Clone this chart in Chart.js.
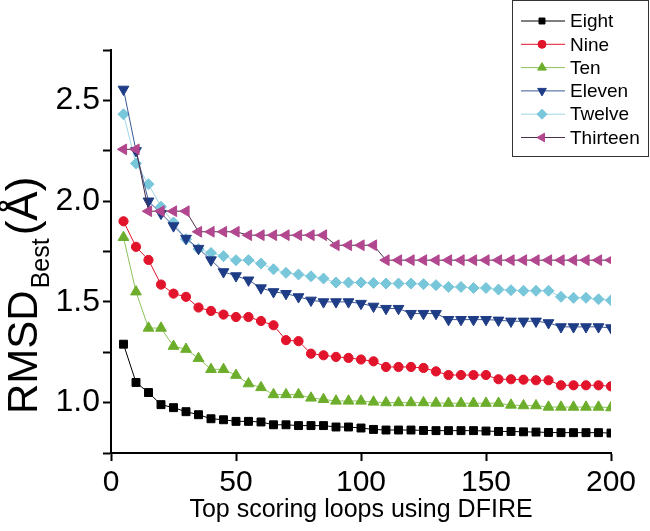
<!DOCTYPE html>
<html>
<head>
<meta charset="utf-8">
<script src="https://cdn.jsdelivr.net/npm/chart.js@4.4.1/dist/chart.umd.min.js"></script>
<style>
  html, body { margin: 0; padding: 0; background: #fff; }
  #wrap { width: 650px; height: 531px; }
</style>
</head>
<body>
<div id="wrap"><canvas id="rmsdChart"></canvas></div>
<script>
var loops = [5, 10, 15, 20, 25, 30, 35, 40, 45, 50, 55, 60, 65, 70, 75, 80, 85, 90, 95, 100,
  105, 110, 115, 120, 125, 130, 135, 140, 145, 150, 155, 160, 165, 170, 175, 180, 185, 190, 195, 200];

var eight = [1.29, 1.10, 1.05, 0.99, 0.975, 0.955, 0.94, 0.92, 0.915, 0.907,
  0.907, 0.904, 0.89, 0.89, 0.886, 0.886, 0.886, 0.879, 0.879, 0.874,
  0.867, 0.864, 0.864, 0.864, 0.862, 0.861, 0.861, 0.861, 0.861, 0.859,
  0.857, 0.857, 0.855, 0.854, 0.852, 0.851, 0.851, 0.851, 0.851, 0.849];
var nine = [1.90, 1.773, 1.708, 1.586, 1.541, 1.525, 1.472, 1.455, 1.437, 1.425,
  1.425, 1.405, 1.384, 1.31, 1.305, 1.243, 1.235, 1.227, 1.222, 1.214,
  1.205, 1.177, 1.177, 1.177, 1.172, 1.155, 1.137, 1.137, 1.137, 1.137,
  1.116, 1.116, 1.114, 1.111, 1.111, 1.086, 1.086, 1.086, 1.086, 1.081];
var ten = [1.82, 1.55, 1.37, 1.37, 1.28, 1.265, 1.22, 1.165, 1.165, 1.136,
  1.094, 1.075, 1.04, 1.04, 1.04, 1.023, 1.016, 1.008, 1.008, 1.008,
  1.003, 1.0, 1.0, 1.0, 1.0, 0.998, 0.997, 0.997, 0.997, 0.997,
  0.997, 0.988, 0.985, 0.985, 0.978, 0.978, 0.978, 0.978, 0.978, 0.975];
var eleven = [2.555, 2.25, 2.0, 1.939, 1.877, 1.815, 1.765, 1.708, 1.649, 1.629,
  1.608, 1.569, 1.55, 1.541, 1.525, 1.508, 1.5, 1.5, 1.5, 1.492,
  1.478, 1.467, 1.467, 1.442, 1.442, 1.442, 1.412, 1.412, 1.412, 1.412,
  1.409, 1.404, 1.404, 1.404, 1.396, 1.376, 1.376, 1.376, 1.376, 1.371];
var twelve = [2.431, 2.187, 2.084, 1.972, 1.894, 1.811, 1.762, 1.743, 1.727, 1.707,
  1.707, 1.69, 1.662, 1.644, 1.636, 1.627, 1.616, 1.596, 1.596, 1.596,
  1.594, 1.591, 1.591, 1.591, 1.588, 1.583, 1.574, 1.574, 1.569, 1.569,
  1.561, 1.558, 1.555, 1.555, 1.555, 1.525, 1.52, 1.52, 1.513, 1.508];
var thirteen = [2.257, 2.257, 1.95, 1.95, 1.95, 1.95, 1.848, 1.848, 1.848, 1.848,
  1.831, 1.831, 1.831, 1.831, 1.831, 1.831, 1.831, 1.781, 1.781, 1.781,
  1.781, 1.707, 1.707, 1.707, 1.707, 1.707, 1.707, 1.707, 1.707, 1.707,
  1.707, 1.707, 1.707, 1.707, 1.707, 1.707, 1.707, 1.707, 1.707, 1.707];

var seriesNames = ["Eight", "Nine", "Ten", "Eleven", "Twelve", "Thirteen"];
var xTicks = [0, 50, 100, 150, 200];
var yTicks = [1.0, 1.5, 2.0, 2.5];

var fontFamily = "'Liberation Sans', Arial, sans-serif";

// marker colour, line colour, point style, rotation, radius
var styles = [
  { mark: "#000000", line: "#000000", shape: "rect", rot: 0, r: 5.6 },
  { mark: "#e2142c", line: "#e2142c", shape: "circle", rot: 0, r: 4.6 },
  { mark: "#6cae2b", line: "#8cc35a", shape: "triangle", rot: 0, r: 6.2 },
  { mark: "#1f3d86", line: "#3b5996", shape: "triangle", rot: 180, r: 6.2 },
  { mark: "#78c6da", line: "#9fd6e4", shape: "rectRot", rot: 0, r: 5.5 },
  { mark: "#b2478f", line: "#4a3048", shape: "triangle", rot: 270, r: 6.2 }
];
var values = [eight, nine, ten, eleven, twelve, thirteen];

var datasets = seriesNames.map(function(name, i) {
  var s = styles[i];
  return {
    label: name,
    data: loops.map(function(x, j) { return { x: x, y: values[i][j] }; }),
    borderColor: s.line,
    borderWidth: 1,
    backgroundColor: s.mark,
    pointBackgroundColor: s.mark,
    pointBorderColor: s.mark,
    pointBorderWidth: 1,
    pointStyle: s.shape,
    pointRotation: s.rot,
    pointRadius: s.r,
    pointHoverRadius: s.r,
    tension: 0,
    order: name === "Thirteen" ? -1 : i
  };
});

// white page
var bgPlugin = {
  id: "bg",
  beforeDraw: function(chart) {
    var ctx = chart.ctx;
    ctx.save();
    ctx.fillStyle = "#fff";
    ctx.fillRect(0, 0, chart.width, chart.height);
    ctx.restore();
  }
};

// RMSD_Best(Å) with a subscript
var yTitlePlugin = {
  id: "yTitle",
  afterDraw: function(chart) {
    var ctx = chart.ctx;
    ctx.save();
    ctx.translate(37, 414);
    ctx.rotate(-Math.PI / 2);
    ctx.fillStyle = "#000";
    ctx.textBaseline = "alphabetic";
    ctx.textAlign = "left";
    ctx.font = "42px " + fontFamily;
    ctx.fillText("RMSD", 0, 0);
    var pos = ctx.measureText("RMSD").width + 2;
    ctx.font = "25px " + fontFamily;
    ctx.fillText("Best", pos, 12);
    pos += ctx.measureText("Best").width + 3;
    ctx.font = "44px " + fontFamily;
    ctx.fillText("(Å)", pos, 0);
    ctx.restore();
  }
};

// legend with a line through each marker
var legendPlugin = {
  id: "lineLegend",
  afterDraw: function(chart) {
    var ctx = chart.ctx;
    ctx.save();
    ctx.strokeStyle = "#333";
    ctx.lineWidth = 1;
    ctx.strokeRect(512.5, 0.5, 136, 156);
    ctx.font = "19px " + fontFamily;
    ctx.textBaseline = "middle";
    ctx.textAlign = "left";
    seriesNames.forEach(function(name, i) {
      var s = styles[i];
      var y = 21 + i * 23.3;
      ctx.strokeStyle = s.line;
      ctx.lineWidth = 1;
      ctx.beginPath();
      ctx.moveTo(521, y);
      ctx.lineTo(565, y);
      ctx.stroke();
      ctx.fillStyle = s.mark;
      ctx.strokeStyle = s.mark;
      Chart.helpers.drawPoint(ctx, {
        pointStyle: s.shape,
        rotation: s.rot,
        radius: s.shape === "rect" ? 4.2 : (s.shape === "circle" ? 4 : 5),
        borderWidth: 1
      }, 542, y);
      ctx.fillStyle = "#000";
      ctx.fillText(name, 570, y + 1);
    });
    ctx.restore();
  }
};

var ctx = document.getElementById("rmsdChart");
var rmsdChart = new Chart(ctx, {
  type: "line",
  data: { datasets: datasets },
  options: {
    responsive: true,
    maintainAspectRatio: false,
    animation: false,
    devicePixelRatio: 1,
    layout: { padding: { top: 50, right: 39, left: 0, bottom: 0 } },
    plugins: {
      legend: { display: false },
      tooltip: { enabled: false }
    },
    scales: {
      x: {
        type: "linear",
        min: 0,
        max: 200,
        afterFit: function(scale) { scale.height = 78; },
        afterBuildTicks: function(scale) {
          scale.ticks = xTicks.map(function(v) { return { value: v }; });
        },
        ticks: {
          color: "#000",
          font: { family: fontFamily, size: 30 },
          padding: 4,
          maxRotation: 0
        },
        grid: { drawOnChartArea: false, color: "#000", tickLength: 8, tickWidth: 2 },
        border: { color: "#000", width: 2 },
        title: {
          display: true,
          text: "Top scoring loops using DFIRE",
          color: "#000",
          font: { family: fontFamily, size: 25 },
          padding: { top: 0, bottom: 6 }
        }
      },
      y: {
        min: 0.75,
        max: 2.75,
        afterFit: function(scale) { scale.width = 111; },
        ticks: {
          stepSize: 0.25,
          color: "#000",
          font: { family: fontFamily, size: 32 },
          padding: 3,
          callback: function(v) {
            return yTicks.indexOf(v) >= 0 ? v.toFixed(1) : "";
          }
        },
        grid: { drawOnChartArea: false, color: "#000", tickLength: 8, tickWidth: 2 },
        border: { color: "#000", width: 2 }
      }
    }
  },
  plugins: [bgPlugin, yTitlePlugin, legendPlugin]
});
</script>
</body>
</html>
